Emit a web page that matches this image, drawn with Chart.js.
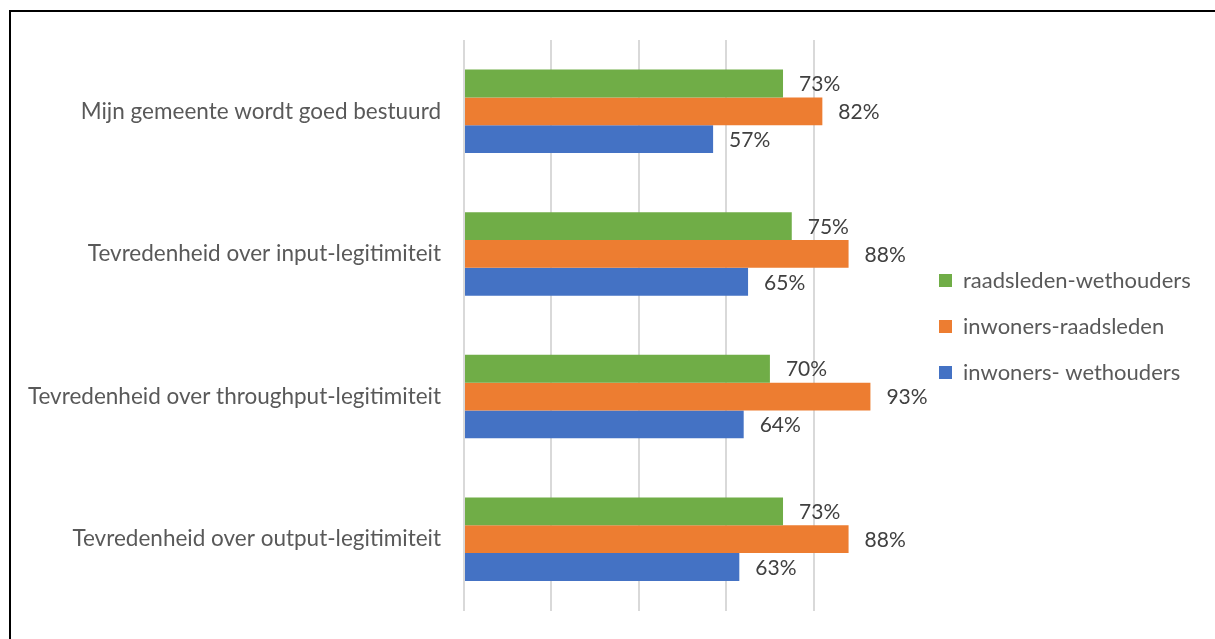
<!DOCTYPE html>
<html lang="nl">
<head>
  <meta charset="UTF-8">
  <title>Tevredenheid</title>
  <script src="https://cdn.jsdelivr.net/npm/chart.js"></script>
  <style>
    html, body { margin: 0; padding: 0; background: #fff; overflow: hidden; }
    #wrap { position: absolute; left: 0; top: 0; width: 1215px; height: 639px; }
    #frame { position: absolute; left: 9px; top: 10px; width: 1300px; height: 700px;
             border-left: 2px solid #000; border-top: 2px solid #000; }
  </style>
</head>
<body>
  <div id="frame"></div>
  <div id="wrap"><canvas id="chart" width="1215" height="639"></canvas></div>

  <script>
    const categories = [
      'Mijn gemeente wordt goed bestuurd',
      'Tevredenheid over input-legitimiteit',
      'Tevredenheid over throughput-legitimiteit',
      'Tevredenheid over output-legitimiteit'
    ];
    const raadsledenWethouders = [73, 75, 70, 73];
    const inwonersRaadsleden = [82, 88, 93, 88];
    const inwonersWethouders = [57, 65, 64, 63];
    const seriesNames = ['raadsleden-wethouders', 'inwoners-raadsleden', 'inwoners- wethouders'];

    const FONT = 'Lato';
    const CAT_SIZE = 22.5;
    const LEGEND_SIZE = 22;
    const VALUE_SIZE = 21;
    const legendPad = 24;

    // plot runs a bit past 100% so the legend sits clear of the 100 gridline
    const xMax = 103.2;
    const areaRight = 915;

    const m = document.createElement('canvas').getContext('2d');
    m.font = LEGEND_SIZE + 'px ' + FONT;
    const textW = Math.max(...seriesNames.map(s => m.measureText(s).width));
    const legendW = legendPad + 13 + LEGEND_SIZE / 2 + textW + 10;
    const padRight = Math.max(0, 1215 - areaRight - legendW);

    const valueLabels = {
      id: 'valueLabels',
      afterDatasetsDraw(chart) {
        const ctx = chart.ctx;
        ctx.save();
        ctx.font = VALUE_SIZE + 'px ' + FONT;
        ctx.fillStyle = '#404040';
        ctx.textBaseline = 'middle';
        ctx.textAlign = 'left';
        chart.data.datasets.forEach((ds, i) => {
          chart.getDatasetMeta(i).data.forEach((bar, j) => {
            ctx.fillText(ds.data[j] + '%', bar.x + 16, bar.y + 1);
          });
        });
        ctx.restore();
      }
    };

    const ctx = document.getElementById('chart').getContext('2d');
    new Chart(ctx, {
      type: 'bar',
      data: {
        labels: categories,
        datasets: [
          { label: seriesNames[0], data: raadsledenWethouders, backgroundColor: '#70AD47' },
          { label: seriesNames[1], data: inwonersRaadsleden, backgroundColor: '#ED7D31' },
          { label: seriesNames[2], data: inwonersWethouders, backgroundColor: '#4472C4' }
        ]
      },
      options: {
        indexAxis: 'y',
        responsive: false,
        animation: false,
        categoryPercentage: 0.586,
        barPercentage: 1,
        layout: { padding: { top: 40, bottom: 26, left: 0, right: padRight } },
        scales: {
          x: {
            min: 0, max: xMax,
            ticks: { display: false, stepSize: 20 },
            grid: {
              color: c => (c.tick && c.tick.value % 20 === 0) ? '#d9d9d9' : 'rgba(0,0,0,0)',
              lineWidth: 2,
              drawTicks: false
            },
            border: { display: false }
          },
          y: {
            grid: { display: false },
            border: { display: false },
            ticks: { color: '#595959', font: { family: FONT, size: CAT_SIZE }, padding: 15 },
            afterFit(scale) { scale.width = 464; }
          }
        },
        plugins: {
          legend: {
            position: 'right',
            labels: {
              boxWidth: 13, boxHeight: 13,
              padding: legendPad,
              color: '#595959',
              font: { family: FONT, size: LEGEND_SIZE }
            }
          },
          tooltip: { enabled: false }
        }
      },
      plugins: [valueLabels]
    });
  </script>
</body>
</html>
